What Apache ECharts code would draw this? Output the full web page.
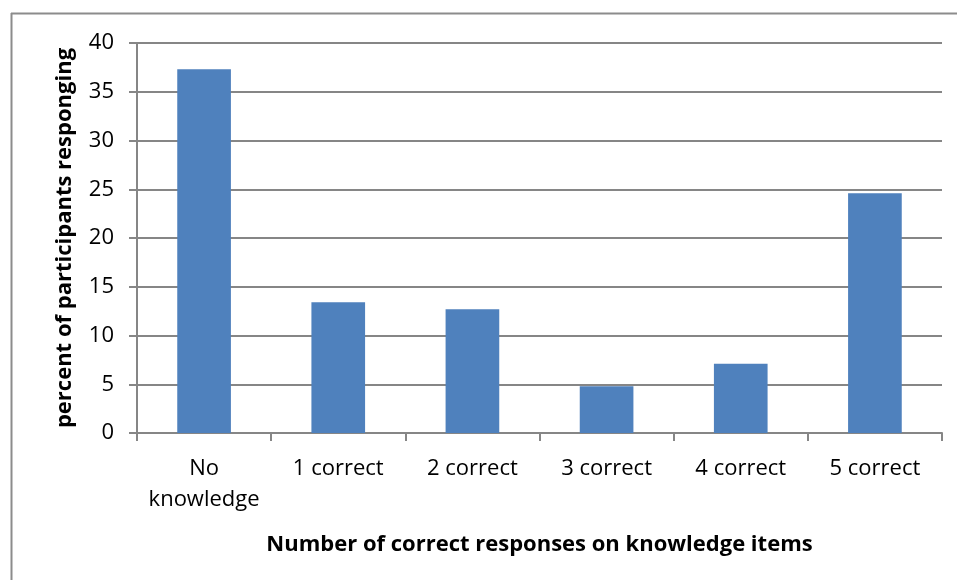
<!DOCTYPE html>
<html><head><meta charset="utf-8">
<script src="https://cdn.jsdelivr.net/npm/echarts@6/dist/echarts.min.js"></script>
<style>html,body{margin:0;padding:0;background:#fff}#c{width:957px;height:580px}</style>
</head><body><div id="c"></div>
<script>
const categories = ['No\nknowledge', '1 correct', '2 correct', '3 correct', '4 correct', '5 correct'];
const values = [37.3, 13.4, 12.7, 4.8, 7.1, 24.6];
const yTicks = { min: 0, max: 40, interval: 5 };
const xTitle = 'Number of correct responses on knowledge items';
const yTitle = 'percent of participants responging';

const chart = echarts.init(document.getElementById('c'), null, {renderer: 'canvas'});
const font = 'Open Sans, Liberation Sans, sans-serif';
chart.setOption({
  animation: false,
  backgroundColor: '#fff',
  grid: { left: 137, right: 15, top: 43, bottom: 147, containLabel: false },
  xAxis: {
    type: 'category', data: categories,
    axisLine: { lineStyle: { color: '#868686', width: 2 } },
    axisTick: { show: true, interval: 0, length: 8, alignWithLabel: false, lineStyle: { color: '#868686', width: 2 } },
    axisLabel: { interval: 0, color: '#000', fontFamily: font, fontSize: 22, margin: 20, lineHeight: 31 },
    name: xTitle, nameLocation: 'middle', nameGap: 101,
    nameTextStyle: { color: '#000', fontFamily: font, fontSize: 22, fontWeight: 'bold' }
  },
  yAxis: {
    type: 'value', min: yTicks.min, max: yTicks.max, interval: yTicks.interval,
    axisLine: { show: true, lineStyle: { color: '#868686', width: 2 } },
    axisTick: { show: true, length: 8, inside: false, lineStyle: { color: '#868686', width: 2 } },
    splitLine: { lineStyle: { color: '#868686', width: 2 } },
    axisLabel: { color: '#000', fontFamily: font, fontSize: 22, margin: 23 },
    name: yTitle, nameLocation: 'middle', nameGap: 61, nameRotate: 90,
    nameTextStyle: { color: '#000', fontFamily: font, fontSize: 22, fontWeight: 'bold' }
  },
  series: [{
    type: 'bar', data: values, barWidth: '40%',
    itemStyle: { color: '#4f81bd', borderWidth: 0 }
  }],
  graphic: [
    { type: 'line', shape: { x1: 11, y1: 13.5, x2: 957, y2: 13.5 }, style: { stroke: '#8c8c8c', lineWidth: 2 } },
    { type: 'line', shape: { x1: 11.5, y1: 13, x2: 11.5, y2: 580 }, style: { stroke: '#8c8c8c', lineWidth: 2 } }
  ]
});
</script></body></html>
